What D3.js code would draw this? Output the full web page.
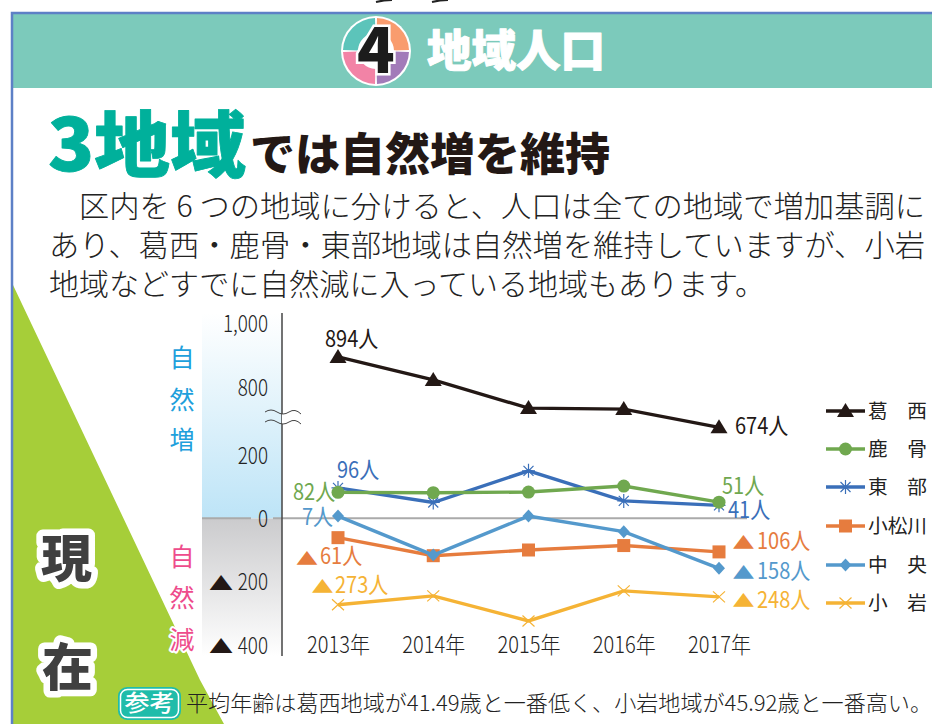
<!DOCTYPE html>
<html lang="ja"><head><meta charset="utf-8">
<script src="https://cdn.jsdelivr.net/npm/d3@7/dist/d3.min.js"></script>
<style>html,body{margin:0;background:#fff;overflow:hidden}svg{display:block;font-family:"Noto Sans CJK JP","Noto Sans",sans-serif}</style>
</head><body><svg id="c" width="932" height="724"></svg>
<script>
const years=["2013年","2014年","2015年","2016年","2017年"];
const katsushika=[894,822,734,731,674];
const shikabone=[82,81,83,102,51];
const higashi=[96,50,150,55,41];
const komatsugawa=[-61,-118,-100,-86,-106];
const chuo=[7,-116,7,-42,-158];
const koiwa=[-273,-245,-324,-229,-248];
const seriesNames=["葛　西","鹿　骨","東　部","小松川","中　央","小　岩"];
const seriesColors=["#231815","#70a84f","#3a6fb9","#e67c3e","#5499cc","#f5b335"];
const lowerTicks=[-400,-200,0,200];
const upperTicks=[800,1000];
const bodyLines=["区内を 6 つの地域に分けると、人口は全ての地域で増加基調に","あり、葛西・鹿骨・東部地域は自然増を維持していますが、小岩","地域などすでに自然減に入っている地域もあります。"];
const FONT='"Noto Sans CJK JP",sans-serif';
const svg=d3.select("#c");
const defs=svg.append("defs");
function grad(id,stops){const g=defs.append("linearGradient").attr("id",id).attr("x1",0).attr("x2",0).attr("y1",0).attr("y2",1);
 stops.forEach(s=>g.append("stop").attr("offset",s[0]).attr("stop-color",s[1]));}
grad("gUp",[[0,"#ffffff"],[0.45,"#e2f3fb"],[1,"#bde4f7"]]);
grad("gDn",[[0,"#cbcbcd"],[1,"#ffffff"]]);

// page furniture
svg.append("path").attr("d","M13,285L200,680L224,724L13,724Z").attr("fill","#a6ce39");
svg.append("rect").attr("x",13).attr("y",14).attr("width",919).attr("height",74).attr("fill","#7ccabb");
svg.append("path").attr("d","M12,724V13H932").attr("fill","none").attr("stroke","#5d80c6").attr("stroke-width",2.5);
svg.append("path").attr("d","M376,2q8,-2 16,-2M432,2q8,-2 16,-2").attr("fill","none").attr("stroke","#222").attr("stroke-width",2);

// badge
const bx=376,by=51,br=35;
svg.append("circle").attr("cx",bx).attr("cy",by).attr("r",br).attr("fill","#fff");
const arc=d3.arc().innerRadius(18).outerRadius(br-2);
[["#5cc4ba",-Math.PI/2+.03,-.03],["#f99c6e",.03,Math.PI/2-.03],["#a27bb9",Math.PI/2+.03,Math.PI-.03],["#f283a6",Math.PI+.03,1.5*Math.PI-.03]].forEach(d=>
 svg.append("path").attr("transform",`translate(${bx},${by})`).attr("fill",d[0]).attr("d",arc({startAngle:d[1],endAngle:d[2]})));
svg.append("text").attr("x",bx).attr("y",by+22).attr("text-anchor","middle").attr("font-size",62).attr("font-weight",900)
 .attr("font-family",FONT).attr("fill","#1c1c1c").attr("stroke","#fff").attr("stroke-width",5).attr("paint-order","stroke").text("4");

function t(x,y,s,o={}){return svg.append("text").attr("x",x).attr("y",y).attr("font-family",FONT)
 .attr("font-size",o.size||20).attr("font-weight",o.weight||400).attr("fill",o.fill||"#222").attr("text-anchor",o.anchor||"start")
 .attr("stroke",o.stroke||null).attr("stroke-width",o.sw||null).attr("paint-order","stroke").attr("stroke-linejoin","round")
 .attr("textLength",o.len||null).attr("lengthAdjust",o.len?"spacingAndGlyphs":null).text(s);}

t(427,67,"地域人口",{size:44,weight:900,fill:"#fff",len:178,stroke:"#fff",sw:1});
t(48,171,"3地域",{size:72,weight:900,fill:"#00b09b",len:198,stroke:"#00b09b",sw:.8});
t(250,171,"では自然増を維持",{size:45,weight:900,fill:"#231815",len:360});
const bodyX=[80,50,50],bodyEnd=[925,925,765];
bodyLines.forEach((s,i)=>t(bodyX[i]-1,[217,256,295][i],s,{size:30,weight:300,fill:"#222",len:bodyEnd[i]-bodyX[i]+1}));
t(41,577,"現",{size:51,weight:900,fill:"#404040",stroke:"#fff",sw:13});
t(42,686,"在",{size:51,weight:900,fill:"#404040",stroke:"#fff",sw:13});

// chart geometry
const yLow=d3.scaleLinear().domain([-400,200]).range([645,455]);
const yUp=d3.scaleLinear().domain([800,1000]).range([387,323]);
const x=d3.scalePoint().domain(years).range([338,719]);
const axisX=282;

svg.append("rect").attr("x",202).attr("y",313).attr("width",80).attr("height",205.5).attr("fill","url(#gUp)");
svg.append("rect").attr("x",202).attr("y",518.5).attr("width",80).attr("height",138).attr("fill","url(#gDn)");

svg.append("path").attr("d",`M202,${yLow(0)}H251M273,${yLow(0)}H747`).attr("stroke","#aaa").attr("stroke-width",2).attr("fill","none");
svg.append("line").attr("x1",axisX).attr("x2",axisX).attr("y1",313).attr("y2",656).attr("stroke","#444").attr("stroke-width",1.5);

// axis break
svg.append("path").attr("d","M282,414H301V424H282Z").attr("fill","#fff");
svg.append("path").attr("d","M265,412q6,-4 12,0t12,0t12,2M265,422q6,-4 12,0t12,0t12,2").attr("fill","none").attr("stroke","#444").attr("stroke-width",1);

function styleAxis(g){
 g.select(".domain").remove();g.selectAll("line").remove();
 g.selectAll("text").attr("x",0).attr("dy",0).attr("y",8).attr("text-anchor","end").attr("font-size",23).attr("font-weight",300)
  .attr("font-family",FONT).attr("fill","#222").attr("transform",`translate(${268-axisX},0) scale(.82,1)`);
}
const fmt=d=>d<0?String(-d):d3.format(",")(d);
const lowG=svg.append("g").attr("transform",`translate(${axisX},0)`).call(d3.axisLeft(yLow).tickValues(lowerTicks).tickFormat(fmt)).call(styleAxis);
svg.append("g").attr("transform",`translate(${axisX},0)`).call(d3.axisLeft(yUp).tickValues(upperTicks).tickFormat(fmt)).call(styleAxis);
lowG.selectAll(".tick").filter(d=>d<0).append("text").attr("font-family",FONT).attr("font-size",21).attr("text-anchor","middle")
 .attr("fill","#231815").attr("transform",`translate(${221-axisX},7.5) scale(1.15,.88)`).text("▲");
const xg=svg.append("g").attr("transform","translate(0,653)").call(d3.axisBottom(x).tickSize(0));
xg.select(".domain").remove();
xg.selectAll("text").attr("y",0).attr("dy",0).attr("font-size",23).attr("font-weight",300).attr("font-family",FONT).attr("fill","#222")
 .attr("text-anchor","middle").attr("transform","scale(.87,1)");

// side labels
["自","然","増"].forEach((c,i)=>t(182,[367,409,449][i],c,{size:25,fill:"#1ea0dc",anchor:"middle"}));
["自","然","減"].forEach((c,i)=>t(182,[566,607,649][i],c,{size:25,fill:"#ee4c8c",anchor:"middle",stroke:"#fff",sw:4}));

// markers
const mark={
 tri:(g,c)=>g.append("path").attr("d","M0,-8L8.5,6H-8.5Z").attr("fill",c),
 circ:(g,c)=>g.append("circle").attr("r",6.5).attr("fill",c),
 star:(g,c)=>g.append("path").attr("d","M-6.5,0H6.5M0,-7V7M-5,-5L5,5M5,-5L-5,5").attr("stroke",c).attr("stroke-width",1.2).attr("fill","none"),
 sq:(g,c)=>g.append("rect").attr("x",-6.5).attr("y",-6.5).attr("width",13).attr("height",13).attr("fill",c),
 dia:(g,c)=>g.append("path").attr("d","M0,-6.5L6,0L0,6.5L-6,0Z").attr("fill",c),
 ex:(g,c)=>g.append("path").attr("d","M-6,-5.5L6,5.5M6,-5.5L-6,5.5").attr("stroke",c).attr("stroke-width",1.2).attr("fill","none")
};
const markKeys=["tri","circ","star","sq","dia","ex"];
const allSeries=[katsushika,shikabone,higashi,komatsugawa,chuo,koiwa];
const drawOrder=[0,2,1,3,4,5];
drawOrder.forEach(i=>{
 const y=i===0?yUp:yLow;
 const line=d3.line().x((d,j)=>x(years[j])).y(d=>y(d));
 svg.append("path").attr("d",line(allSeries[i])).attr("fill","none").attr("stroke",seriesColors[i]).attr("stroke-width",3.4);
 allSeries[i].forEach((d,j)=>{
  const g=svg.append("g").attr("transform",`translate(${x(years[j])},${y(d)})`);
  mark[markKeys[i]](g,seriesColors[i]);
 });
});

// legend
const legendY=[411,449,487,526,565,603];
seriesNames.forEach((n,i)=>{
 svg.append("line").attr("x1",826).attr("x2",865).attr("y1",legendY[i]).attr("y2",legendY[i]).attr("stroke",seriesColors[i]).attr("stroke-width",3.4);
 mark[markKeys[i]](svg.append("g").attr("transform",`translate(845.5,${legendY[i]})`),seriesColors[i]);
 t(868,legendY[i]+7,n,{size:19,weight:400,fill:"#222",len:59});
});

// value labels
function lab(xp,y,s,c){svg.append("text").attr("transform",`translate(${xp},${y}) scale(.87,1)`).attr("font-family",FONT).attr("font-size",23).attr("font-weight",400).attr("fill",c).text(s);}
function tri(xc,y,c){svg.append("text").attr("transform",`translate(${xc},${y}) scale(1.05,.8)`).attr("font-family",FONT).attr("font-size",21).attr("text-anchor","middle").attr("fill",c).text("▲");}
lab(325,347,"894人",seriesColors[0]);
lab(735,434,"674人",seriesColors[0]);
lab(337,478,"96人",seriesColors[2]);
lab(293,500,"82人",seriesColors[1]);
lab(302,525,"7人",seriesColors[4]);
lab(722,494,"51人",seriesColors[1]);
lab(728,518,"41人",seriesColors[2]);
tri(307,565,seriesColors[3]);lab(320,564,"61人",seriesColors[3]);
tri(322.5,593,seriesColors[5]);lab(335,593,"273人",seriesColors[5]);
tri(743.5,549,seriesColors[3]);lab(757,549,"106人",seriesColors[3]);
tri(743.5,579,seriesColors[4]);lab(757,579,"158人",seriesColors[4]);
tri(743.5,607,seriesColors[5]);lab(757,608,"248人",seriesColors[5]);

// footnote
svg.append("rect").attr("x",118).attr("y",687).attr("width",63).attr("height",33).attr("rx",9).attr("fill","#1fbcaa");
svg.append("rect").attr("x",120.5).attr("y",689.5).attr("width",58).attr("height",28).attr("rx",7).attr("fill","#1fbcaa").attr("stroke","#fff").attr("stroke-width",1.5);
t(149.5,711,"参考",{size:23,weight:500,fill:"#fff",anchor:"middle",len:50});
t(186,711,"平均年齢は葛西地域が41.49歳と一番低く、小岩地域が45.92歳と一番高い。",{size:22,weight:300,fill:"#222",len:746});
</script></body></html>
